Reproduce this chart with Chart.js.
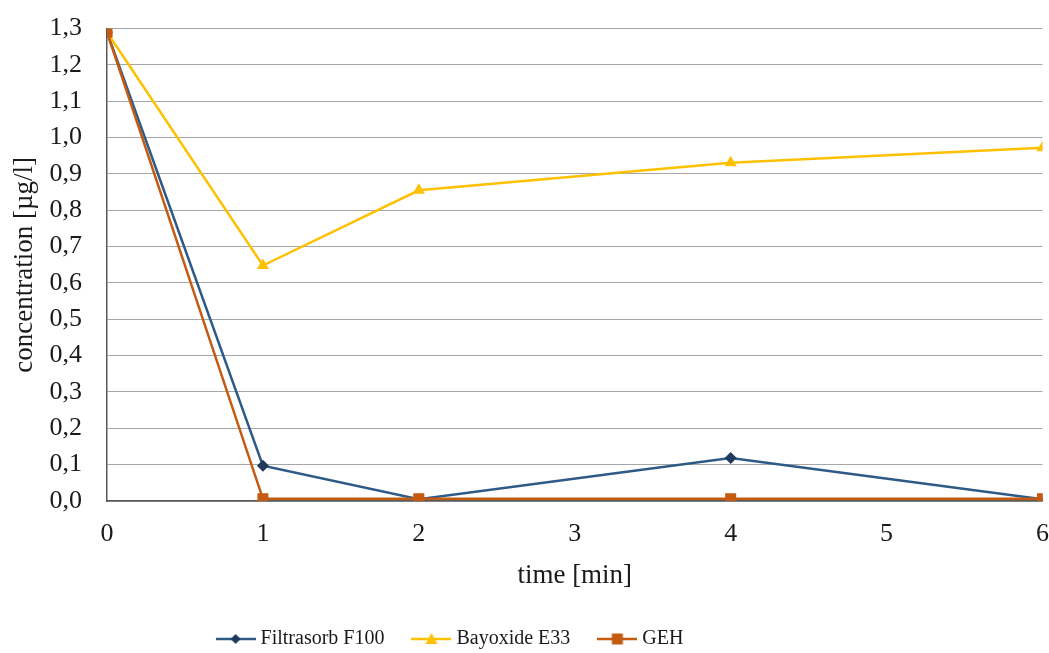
<!DOCTYPE html>
<html>
<head>
<meta charset="utf-8">
<script src="https://cdn.jsdelivr.net/npm/chart.js@4/dist/chart.umd.min.js"></script>
<style>
  html, body { margin: 0; padding: 0; background: #fff; overflow: hidden; }
  #wrap { position: relative; top: -12px; width: 1067px; height: 665px; }
</style>
</head>
<body>
<div id="wrap"><canvas id="adsChart"></canvas></div>
<script>
// data
const times = [0, 1, 2, 4, 6];
const filtrasorb = [1.29, 0.097, 0.005, 0.118, 0.005];
const bayoxide = [1.29, 0.648, 0.855, 0.931, 0.972];
const geh = [1.29, 0.006, 0.006, 0.006, 0.006];
const xTicks = [0, 1, 2, 3, 4, 5, 6];
const yTicks = [0, 0.1, 0.2, 0.3, 0.4, 0.5, 0.6, 0.7, 0.8, 0.9, 1.0, 1.1, 1.2, 1.3];

const FONT = "'Liberation Serif', 'Times New Roman', serif";
const TEXT = "#1a1a1a";
const LEGEND_SHIFT = -84; // legend sits left of centre in the original

function toPoints(ys) {
  return times.map((t, i) => ({ x: t, y: ys[i] }));
}

// little legend icon: line with marker in the middle
function legendIcon(lineColor, markerColor, shape) {
  const c = document.createElement("canvas");
  c.width = 40; c.height = 14;
  const g = c.getContext("2d");
  g.strokeStyle = lineColor;
  g.lineWidth = 2.5;
  g.beginPath(); g.moveTo(0, 7); g.lineTo(40, 7); g.stroke();
  g.fillStyle = markerColor;
  g.beginPath();
  if (shape === "diamond") {
    g.moveTo(20, 2); g.lineTo(25, 7); g.lineTo(20, 12); g.lineTo(15, 7);
  } else if (shape === "triangle") {
    g.moveTo(20, 1); g.lineTo(26, 12); g.lineTo(14, 12);
  } else {
    g.rect(14.5, 1.5, 11, 11);
  }
  g.closePath(); g.fill();
  return c;
}

const series = [
  { label: "Filtrasorb F100", data: filtrasorb, color: "#2E5A87", marker: "#1F3A5A", style: "rectRot", radius: 6, icon: "diamond", order: 3 },
  { label: "Bayoxide E33", data: bayoxide, color: "#FFC000", marker: "#FFC000", style: "triangle", radius: 7, icon: "triangle", order: 2 },
  { label: "GEH", data: geh, color: "#C55A11", marker: "#C55A11", style: "rect", radius: 7.8, icon: "square", order: 1 },
];

// move the legend sideways after layout
const legendShift = {
  id: "legendShift",
  afterLayout(chart) {
    if (chart.legend) {
      chart.legend.left += LEGEND_SHIFT;
      chart.legend.right += LEGEND_SHIFT;
    }
  },
};

const ctx = document.getElementById("adsChart").getContext("2d");

const adsChart = new Chart(ctx, {
  type: "line",
  data: {
    datasets: series.map(s => ({
      label: s.label,
      data: toPoints(s.data),
      borderColor: s.color,
      backgroundColor: s.marker,
      borderWidth: 2.5,
      pointStyle: s.style,
      pointRadius: s.radius,
      pointBorderWidth: 0,
      pointBackgroundColor: s.marker,
      tension: 0,
      order: s.order,
    })),
  },
  plugins: [legendShift],
  options: {
    responsive: true,
    maintainAspectRatio: false,
    animation: false,
    layout: { padding: { left: 5, top: 0, right: 0, bottom: -6 } },
    scales: {
      x: {
        type: "linear",
        min: 0,
        max: 6,
        afterBuildTicks: axis => { axis.ticks = xTicks.map(v => ({ value: v })); },
        afterFit: axis => { axis.height = 96; },
        grid: { display: false, drawTicks: false },
        border: { display: true, color: "#595959", width: 1.5 },
        ticks: { color: TEXT, font: { family: FONT, size: 26 }, padding: 18, maxRotation: 0 },
        title: { display: true, text: "time [min]", color: TEXT, font: { family: FONT, size: 27 }, padding: { top: 4, bottom: 5 } },
      },
      y: {
        min: 0,
        max: 1.3,
        afterBuildTicks: axis => { axis.ticks = yTicks.map(v => ({ value: v })); },
        afterFit: axis => { axis.width = 102; },
        grid: { color: "#A6A6A6", lineWidth: 1, drawTicks: false },
        border: { display: true, color: "#595959", width: 1.5 },
        ticks: {
          color: TEXT,
          font: { family: FONT, size: 26 },
          padding: 25,
          callback: v => v.toFixed(1).replace(".", ","),
        },
        title: { display: true, text: "concentration [µg/l]", color: TEXT, font: { family: FONT, size: 27 }, padding: { top: 4, bottom: 4 } },
      },
    },
    plugins: {
      legend: {
        position: "bottom",
        labels: {
          color: TEXT,
          font: { family: FONT, size: 20 },
          usePointStyle: true,
          pointStyleWidth: 30,
          padding: 32,
          generateLabels: chart => series.map((s, i) => ({
            text: s.label,
            pointStyle: legendIcon(s.color, s.marker, s.icon),
            fillStyle: s.color,
            strokeStyle: s.color,
            lineWidth: 0,
            hidden: false,
            datasetIndex: i,
            fontColor: TEXT,
          })),
        },
      },
      tooltip: { enabled: false },
    },
  },
});
</script>
</body>
</html>
